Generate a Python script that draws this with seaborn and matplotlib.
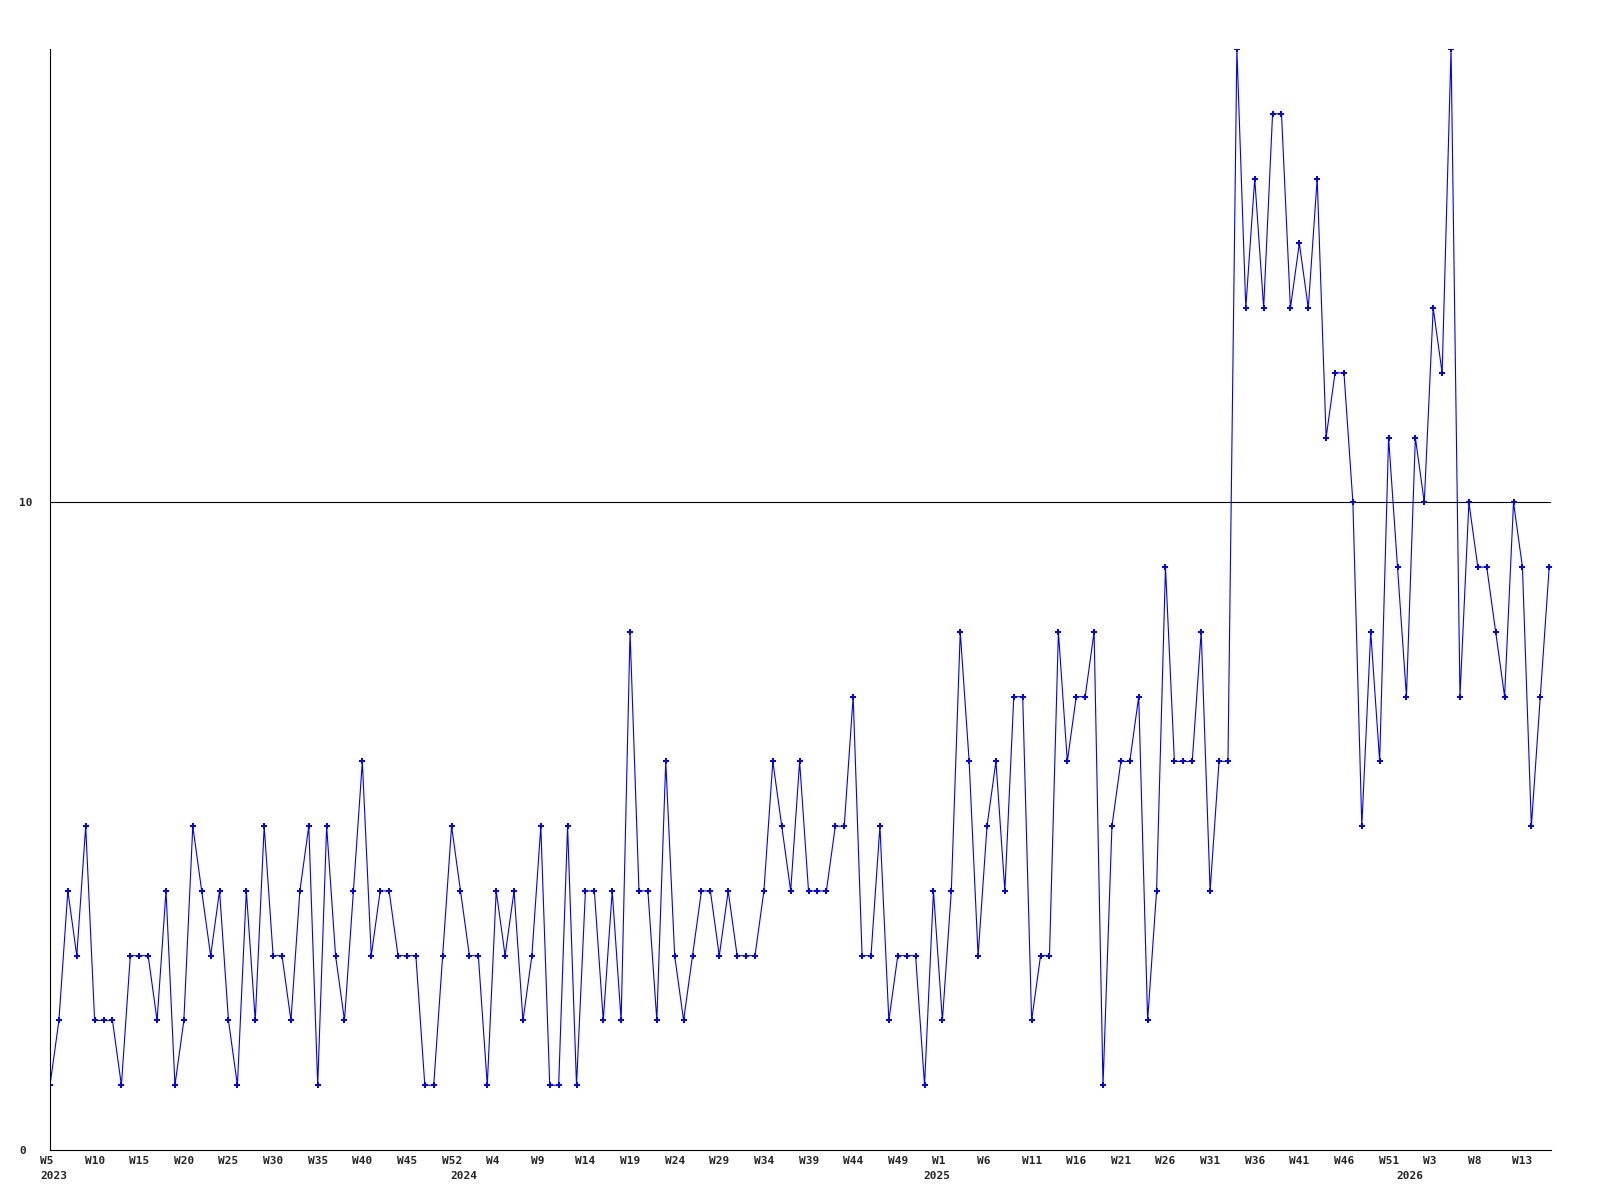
#Libraries
import pandas as pd
import seaborn as sns
import matplotlib.pyplot as plt

#Data: weekly counts, 2023 W5 onwards
counts = [1, 2, 4, 3, 5, 2, 2, 2, 1, 3, 3, 3, 2, 4, 1, 2, 5, 4, 3, 4, 2, 1, 4, 2, 5, 3, 3, 2, 4, 5, 1, 5, 3,
          2, 4, 6, 3, 4, 4, 3, 3, 3, 1, 1, 3, 5, 4, 3, 3, 1, 4, 3, 4, 2, 3, 5, 1, 1, 5, 1, 4, 4, 2, 4, 2, 8,
          4, 4, 2, 6, 3, 2, 3, 4, 4, 3, 4, 3, 3, 3, 4, 6, 5, 4, 6, 4, 4, 4, 5, 5, 7, 3, 3, 5, 2, 3, 3, 3,
          1, 4, 2, 4, 8, 6, 3, 5, 6, 4, 7, 7, 2, 3, 3, 8, 6, 7, 7, 8, 1, 5, 6, 6, 7, 2, 4, 9, 6, 6, 6, 8, 4, 6, 6,
          17, 13, 15, 13, 16, 16, 13, 14, 13, 15, 11, 12, 12, 10, 5, 8, 6, 11, 9, 7, 11, 10, 13, 12, 17, 7,
          10, 9, 9, 8, 7, 10, 9, 5, 7, 9]
week_labels = ['W5', 'W10', 'W15', 'W20', 'W25', 'W30', 'W35', 'W40', 'W45', 'W52',
               'W4', 'W9', 'W14', 'W19', 'W24', 'W29', 'W34', 'W39', 'W44', 'W49',
               'W1', 'W6', 'W11', 'W16', 'W21', 'W26', 'W31', 'W36', 'W41', 'W46',
               'W51', 'W3', 'W8', 'W13']
years = ['2023', '2024', '2025', '2026']
year_weeks = [0, 46, 99, 152]
y_ticks = [0, 10]

df = pd.DataFrame({'week': range(len(counts)), 'count': counts})

sns.set_style('white')
plt.rcParams['font.family'] = ['DejaVu Sans Mono']
plt.rcParams['font.weight'] = 'bold'

fig = plt.figure(figsize=(16, 12), dpi=100)
ax = fig.add_axes([50 / 1600, 50 / 1200, 1501 / 1600, 1101 / 1200])

sns.lineplot(data=df, x='week', y='count', ax=ax, color='#0000ff', linewidth=0.8,
             marker='P', markersize=4.5, markeredgewidth=0)
ax.axhline(10, color='black', linewidth=0.8, zorder=1)

ax.set_xlim(0, 168.2)
ax.set_ylim(0, 17)
ax.set_xlabel('')
ax.set_ylabel('')
sns.despine(ax=ax)
for s in ['left', 'bottom']:
    ax.spines[s].set_color('black')
    ax.spines[s].set_linewidth(0.8)

#Ticks: y as ticks, week labels drawn as text starting a bit left of their week
ax.set_xticks([])
ax.set_yticks(y_ticks)
ax.set_yticklabels([str(v) for v in y_ticks], ha='left', fontsize=8, fontweight='bold')
ax.tick_params(axis='y', length=0, pad=22)

for lab, wk in zip(week_labels, range(0, len(counts), 5)):
    ax.annotate(lab, xy=(wk, 0), xycoords=('data', 'axes fraction'),
                xytext=(-10, -6), textcoords='offset pixels',
                ha='left', va='top', fontsize=8, fontweight='bold')

#Year labels
for yr, wk in zip(years, year_weeks):
    ax.annotate(yr, xy=(wk, 0), xycoords=('data', 'axes fraction'),
                xytext=(-10, -21), textcoords='offset pixels',
                ha='left', va='top', fontsize=8, fontweight='bold')

fig.savefig('out.png', dpi=100, facecolor='white')
